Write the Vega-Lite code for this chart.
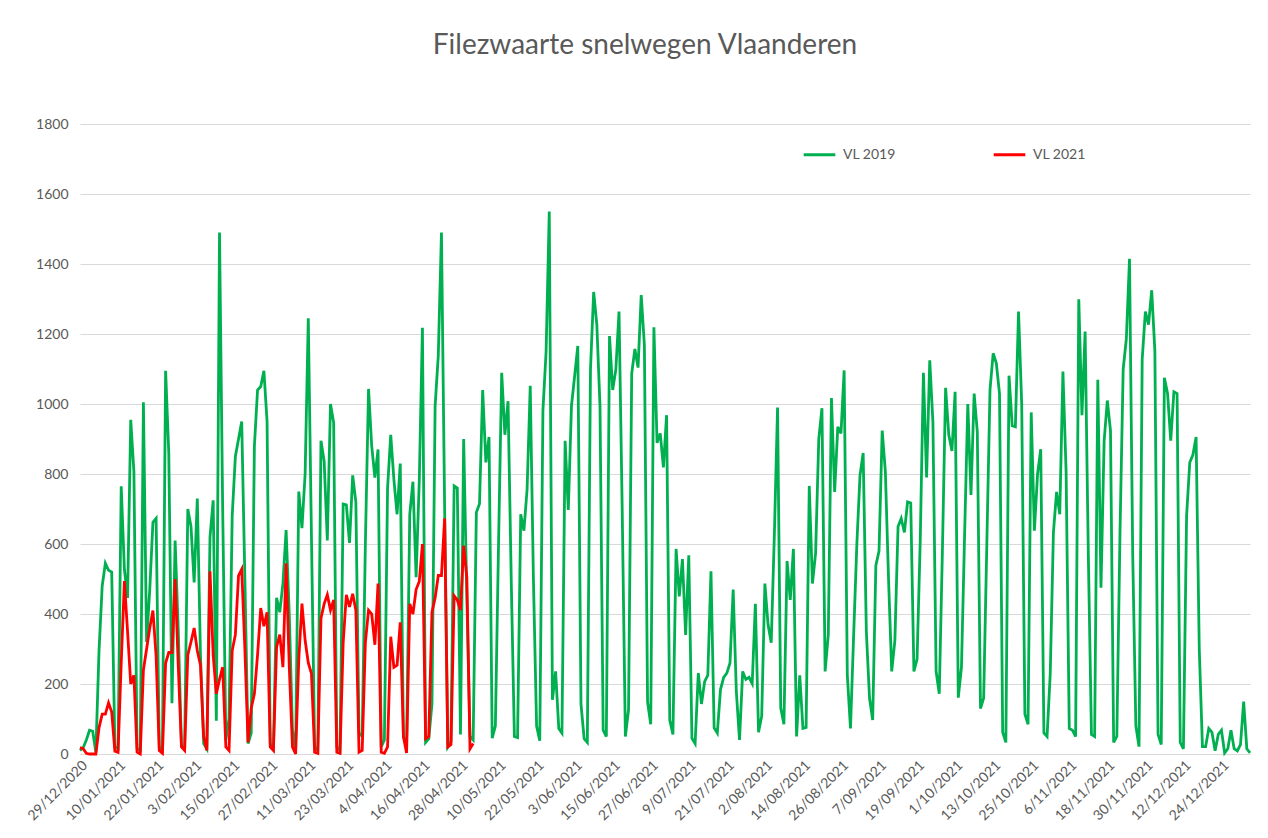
{
"$schema": "https://vega.github.io/schema/vega-lite/v6.json",
"width": 1170, "height": 630,
"autosize": "none",
"padding": {"left": 80, "top": 124, "right": 18, "bottom": 84},
"background": "white",
"title": {"text": "Filezwaarte snelwegen Vlaanderen", "fontSize": 28, "font": "Lato", "fontWeight": "normal", "color": "#595959", "offset": 57, "dx": -20},
"config": {"view": {"stroke": null}, "font": "Lato"},
"data": {"values": [
{"dag":"2020-12-29","VL 2019":10,"VL 2021":18},
{"dag":"2020-12-30","VL 2019":18,"VL 2021":15},
{"dag":"2020-12-31","VL 2019":40,"VL 2021":2},
{"dag":"2021-01-01","VL 2019":68,"VL 2021":0},
{"dag":"2021-01-02","VL 2019":65,"VL 2021":0},
{"dag":"2021-01-03","VL 2019":5,"VL 2021":0},
{"dag":"2021-01-04","VL 2019":295,"VL 2021":75},
{"dag":"2021-01-05","VL 2019":480,"VL 2021":114},
{"dag":"2021-01-06","VL 2019":545,"VL 2021":114},
{"dag":"2021-01-07","VL 2019":525,"VL 2021":146},
{"dag":"2021-01-08","VL 2019":520,"VL 2021":120},
{"dag":"2021-01-09","VL 2019":20,"VL 2021":8},
{"dag":"2021-01-10","VL 2019":15,"VL 2021":5},
{"dag":"2021-01-11","VL 2019":765,"VL 2021":260},
{"dag":"2021-01-12","VL 2019":528,"VL 2021":494},
{"dag":"2021-01-13","VL 2019":446,"VL 2021":350},
{"dag":"2021-01-14","VL 2019":955,"VL 2021":200},
{"dag":"2021-01-15","VL 2019":807,"VL 2021":225},
{"dag":"2021-01-16","VL 2019":15,"VL 2021":5},
{"dag":"2021-01-17","VL 2019":10,"VL 2021":0},
{"dag":"2021-01-18","VL 2019":1005,"VL 2021":240},
{"dag":"2021-01-19","VL 2019":320,"VL 2021":300},
{"dag":"2021-01-20","VL 2019":470,"VL 2021":360},
{"dag":"2021-01-21","VL 2019":662,"VL 2021":410},
{"dag":"2021-01-22","VL 2019":673,"VL 2021":280},
{"dag":"2021-01-23","VL 2019":20,"VL 2021":10},
{"dag":"2021-01-24","VL 2019":10,"VL 2021":2},
{"dag":"2021-01-25","VL 2019":1095,"VL 2021":260},
{"dag":"2021-01-26","VL 2019":860,"VL 2021":290},
{"dag":"2021-01-27","VL 2019":145,"VL 2021":290},
{"dag":"2021-01-28","VL 2019":610,"VL 2021":500},
{"dag":"2021-01-29","VL 2019":350,"VL 2021":250},
{"dag":"2021-01-30","VL 2019":25,"VL 2021":20},
{"dag":"2021-01-31","VL 2019":15,"VL 2021":10},
{"dag":"2021-02-01","VL 2019":700,"VL 2021":283},
{"dag":"2021-02-02","VL 2019":650,"VL 2021":320},
{"dag":"2021-02-03","VL 2019":490,"VL 2021":360},
{"dag":"2021-02-04","VL 2019":730,"VL 2021":295},
{"dag":"2021-02-05","VL 2019":280,"VL 2021":254},
{"dag":"2021-02-06","VL 2019":30,"VL 2021":50},
{"dag":"2021-02-07","VL 2019":15,"VL 2021":10},
{"dag":"2021-02-08","VL 2019":620,"VL 2021":522},
{"dag":"2021-02-09","VL 2019":725,"VL 2021":283},
{"dag":"2021-02-10","VL 2019":95,"VL 2021":172},
{"dag":"2021-02-11","VL 2019":1490,"VL 2021":213},
{"dag":"2021-02-12","VL 2019":700,"VL 2021":248},
{"dag":"2021-02-13","VL 2019":40,"VL 2021":20},
{"dag":"2021-02-14","VL 2019":100,"VL 2021":10},
{"dag":"2021-02-15","VL 2019":680,"VL 2021":295},
{"dag":"2021-02-16","VL 2019":850,"VL 2021":341},
{"dag":"2021-02-17","VL 2019":900,"VL 2021":510},
{"dag":"2021-02-18","VL 2019":950,"VL 2021":528},
{"dag":"2021-02-19","VL 2019":500,"VL 2021":300},
{"dag":"2021-02-20","VL 2019":30,"VL 2021":33},
{"dag":"2021-02-21","VL 2019":60,"VL 2021":131},
{"dag":"2021-02-22","VL 2019":880,"VL 2021":172},
{"dag":"2021-02-23","VL 2019":1040,"VL 2021":283},
{"dag":"2021-02-24","VL 2019":1050,"VL 2021":417},
{"dag":"2021-02-25","VL 2019":1095,"VL 2021":365},
{"dag":"2021-02-26","VL 2019":950,"VL 2021":405},
{"dag":"2021-02-27","VL 2019":30,"VL 2021":20},
{"dag":"2021-02-28","VL 2019":15,"VL 2021":10},
{"dag":"2021-03-01","VL 2019":446,"VL 2021":306},
{"dag":"2021-03-02","VL 2019":405,"VL 2021":341},
{"dag":"2021-03-03","VL 2019":487,"VL 2021":248},
{"dag":"2021-03-04","VL 2019":640,"VL 2021":545},
{"dag":"2021-03-05","VL 2019":400,"VL 2021":250},
{"dag":"2021-03-06","VL 2019":70,"VL 2021":20},
{"dag":"2021-03-07","VL 2019":5,"VL 2021":0},
{"dag":"2021-03-08","VL 2019":750,"VL 2021":270},
{"dag":"2021-03-09","VL 2019":645,"VL 2021":430},
{"dag":"2021-03-10","VL 2019":800,"VL 2021":325},
{"dag":"2021-03-11","VL 2019":1245,"VL 2021":260},
{"dag":"2021-03-12","VL 2019":620,"VL 2021":230},
{"dag":"2021-03-13","VL 2019":20,"VL 2021":5},
{"dag":"2021-03-14","VL 2019":10,"VL 2021":2},
{"dag":"2021-03-15","VL 2019":895,"VL 2021":388},
{"dag":"2021-03-16","VL 2019":837,"VL 2021":429},
{"dag":"2021-03-17","VL 2019":610,"VL 2021":455},
{"dag":"2021-03-18","VL 2019":1000,"VL 2021":411},
{"dag":"2021-03-19","VL 2019":947,"VL 2021":440},
{"dag":"2021-03-20","VL 2019":20,"VL 2021":5},
{"dag":"2021-03-21","VL 2019":10,"VL 2021":2},
{"dag":"2021-03-22","VL 2019":714,"VL 2021":318},
{"dag":"2021-03-23","VL 2019":712,"VL 2021":455},
{"dag":"2021-03-24","VL 2019":603,"VL 2021":420},
{"dag":"2021-03-25","VL 2019":796,"VL 2021":458},
{"dag":"2021-03-26","VL 2019":720,"VL 2021":411},
{"dag":"2021-03-27","VL 2019":60,"VL 2021":5},
{"dag":"2021-03-28","VL 2019":50,"VL 2021":10},
{"dag":"2021-03-29","VL 2019":600,"VL 2021":318},
{"dag":"2021-03-30","VL 2019":1043,"VL 2021":411},
{"dag":"2021-03-31","VL 2019":880,"VL 2021":400},
{"dag":"2021-04-01","VL 2019":790,"VL 2021":312},
{"dag":"2021-04-02","VL 2019":870,"VL 2021":487},
{"dag":"2021-04-03","VL 2019":20,"VL 2021":5},
{"dag":"2021-04-04","VL 2019":40,"VL 2021":2},
{"dag":"2021-04-05","VL 2019":760,"VL 2021":20},
{"dag":"2021-04-06","VL 2019":912,"VL 2021":335},
{"dag":"2021-04-07","VL 2019":784,"VL 2021":248},
{"dag":"2021-04-08","VL 2019":685,"VL 2021":254},
{"dag":"2021-04-09","VL 2019":830,"VL 2021":376},
{"dag":"2021-04-10","VL 2019":50,"VL 2021":50},
{"dag":"2021-04-11","VL 2019":25,"VL 2021":3},
{"dag":"2021-04-12","VL 2019":685,"VL 2021":429},
{"dag":"2021-04-13","VL 2019":778,"VL 2021":400},
{"dag":"2021-04-14","VL 2019":505,"VL 2021":470},
{"dag":"2021-04-15","VL 2019":780,"VL 2021":493},
{"dag":"2021-04-16","VL 2019":1218,"VL 2021":600},
{"dag":"2021-04-17","VL 2019":33,"VL 2021":44},
{"dag":"2021-04-18","VL 2019":44,"VL 2021":50},
{"dag":"2021-04-19","VL 2019":143,"VL 2021":405},
{"dag":"2021-04-20","VL 2019":994,"VL 2021":446},
{"dag":"2021-04-21","VL 2019":1139,"VL 2021":510},
{"dag":"2021-04-22","VL 2019":1490,"VL 2021":510},
{"dag":"2021-04-23","VL 2019":700,"VL 2021":673},
{"dag":"2021-04-24","VL 2019":20,"VL 2021":20},
{"dag":"2021-04-25","VL 2019":35,"VL 2021":27},
{"dag":"2021-04-26","VL 2019":766,"VL 2021":452},
{"dag":"2021-04-27","VL 2019":760,"VL 2021":440},
{"dag":"2021-04-28","VL 2019":56,"VL 2021":411},
{"dag":"2021-04-29","VL 2019":900,"VL 2021":595},
{"dag":"2021-04-30","VL 2019":450,"VL 2021":505},
{"dag":"2021-05-01","VL 2019":50,"VL 2021":15},
{"dag":"2021-05-02","VL 2019":40,"VL 2021":30},
{"dag":"2021-05-03","VL 2019":690},
{"dag":"2021-05-04","VL 2019":715},
{"dag":"2021-05-05","VL 2019":1040},
{"dag":"2021-05-06","VL 2019":833},
{"dag":"2021-05-07","VL 2019":906},
{"dag":"2021-05-08","VL 2019":45},
{"dag":"2021-05-09","VL 2019":80},
{"dag":"2021-05-10","VL 2019":600},
{"dag":"2021-05-11","VL 2019":1089},
{"dag":"2021-05-12","VL 2019":912},
{"dag":"2021-05-13","VL 2019":1008},
{"dag":"2021-05-14","VL 2019":500},
{"dag":"2021-05-15","VL 2019":50},
{"dag":"2021-05-16","VL 2019":47},
{"dag":"2021-05-17","VL 2019":685},
{"dag":"2021-05-18","VL 2019":638},
{"dag":"2021-05-19","VL 2019":755},
{"dag":"2021-05-20","VL 2019":1052},
{"dag":"2021-05-21","VL 2019":500},
{"dag":"2021-05-22","VL 2019":80},
{"dag":"2021-05-23","VL 2019":38},
{"dag":"2021-05-24","VL 2019":982},
{"dag":"2021-05-25","VL 2019":1150},
{"dag":"2021-05-26","VL 2019":1550},
{"dag":"2021-05-27","VL 2019":155},
{"dag":"2021-05-28","VL 2019":236},
{"dag":"2021-05-29","VL 2019":73},
{"dag":"2021-05-30","VL 2019":60},
{"dag":"2021-05-31","VL 2019":895},
{"dag":"2021-06-01","VL 2019":697},
{"dag":"2021-06-02","VL 2019":994},
{"dag":"2021-06-03","VL 2019":1080},
{"dag":"2021-06-04","VL 2019":1166},
{"dag":"2021-06-05","VL 2019":143},
{"dag":"2021-06-06","VL 2019":44},
{"dag":"2021-06-07","VL 2019":33},
{"dag":"2021-06-08","VL 2019":1100},
{"dag":"2021-06-09","VL 2019":1320},
{"dag":"2021-06-10","VL 2019":1227},
{"dag":"2021-06-11","VL 2019":994},
{"dag":"2021-06-12","VL 2019":68},
{"dag":"2021-06-13","VL 2019":50},
{"dag":"2021-06-14","VL 2019":1194},
{"dag":"2021-06-15","VL 2019":1040},
{"dag":"2021-06-16","VL 2019":1099},
{"dag":"2021-06-17","VL 2019":1264},
{"dag":"2021-06-18","VL 2019":700},
{"dag":"2021-06-19","VL 2019":50},
{"dag":"2021-06-20","VL 2019":126},
{"dag":"2021-06-21","VL 2019":1087},
{"dag":"2021-06-22","VL 2019":1157},
{"dag":"2021-06-23","VL 2019":1104},
{"dag":"2021-06-24","VL 2019":1311},
{"dag":"2021-06-25","VL 2019":1168},
{"dag":"2021-06-26","VL 2019":149},
{"dag":"2021-06-27","VL 2019":85},
{"dag":"2021-06-28","VL 2019":1219},
{"dag":"2021-06-29","VL 2019":889},
{"dag":"2021-06-30","VL 2019":916},
{"dag":"2021-07-01","VL 2019":819},
{"dag":"2021-07-02","VL 2019":968},
{"dag":"2021-07-03","VL 2019":97},
{"dag":"2021-07-04","VL 2019":56},
{"dag":"2021-07-05","VL 2019":586},
{"dag":"2021-07-06","VL 2019":450},
{"dag":"2021-07-07","VL 2019":557},
{"dag":"2021-07-08","VL 2019":340},
{"dag":"2021-07-09","VL 2019":568},
{"dag":"2021-07-10","VL 2019":45},
{"dag":"2021-07-11","VL 2019":30},
{"dag":"2021-07-12","VL 2019":231},
{"dag":"2021-07-13","VL 2019":143},
{"dag":"2021-07-14","VL 2019":207},
{"dag":"2021-07-15","VL 2019":225},
{"dag":"2021-07-16","VL 2019":522},
{"dag":"2021-07-17","VL 2019":75},
{"dag":"2021-07-18","VL 2019":60},
{"dag":"2021-07-19","VL 2019":184},
{"dag":"2021-07-20","VL 2019":219},
{"dag":"2021-07-21","VL 2019":231},
{"dag":"2021-07-22","VL 2019":260},
{"dag":"2021-07-23","VL 2019":470},
{"dag":"2021-07-24","VL 2019":178},
{"dag":"2021-07-25","VL 2019":40},
{"dag":"2021-07-26","VL 2019":236},
{"dag":"2021-07-27","VL 2019":213},
{"dag":"2021-07-28","VL 2019":219},
{"dag":"2021-07-29","VL 2019":201},
{"dag":"2021-07-30","VL 2019":429},
{"dag":"2021-07-31","VL 2019":62},
{"dag":"2021-08-01","VL 2019":108},
{"dag":"2021-08-02","VL 2019":487},
{"dag":"2021-08-03","VL 2019":370},
{"dag":"2021-08-04","VL 2019":318},
{"dag":"2021-08-05","VL 2019":630},
{"dag":"2021-08-06","VL 2019":990},
{"dag":"2021-08-07","VL 2019":132},
{"dag":"2021-08-08","VL 2019":85},
{"dag":"2021-08-09","VL 2019":551},
{"dag":"2021-08-10","VL 2019":440},
{"dag":"2021-08-11","VL 2019":586},
{"dag":"2021-08-12","VL 2019":50},
{"dag":"2021-08-13","VL 2019":225},
{"dag":"2021-08-14","VL 2019":73},
{"dag":"2021-08-15","VL 2019":76},
{"dag":"2021-08-16","VL 2019":766},
{"dag":"2021-08-17","VL 2019":487},
{"dag":"2021-08-18","VL 2019":574},
{"dag":"2021-08-19","VL 2019":900},
{"dag":"2021-08-20","VL 2019":988},
{"dag":"2021-08-21","VL 2019":236},
{"dag":"2021-08-22","VL 2019":341},
{"dag":"2021-08-23","VL 2019":1017},
{"dag":"2021-08-24","VL 2019":749},
{"dag":"2021-08-25","VL 2019":935},
{"dag":"2021-08-26","VL 2019":916},
{"dag":"2021-08-27","VL 2019":1096},
{"dag":"2021-08-28","VL 2019":225},
{"dag":"2021-08-29","VL 2019":73},
{"dag":"2021-08-30","VL 2019":341},
{"dag":"2021-08-31","VL 2019":598},
{"dag":"2021-09-01","VL 2019":796},
{"dag":"2021-09-02","VL 2019":860},
{"dag":"2021-09-03","VL 2019":350},
{"dag":"2021-09-04","VL 2019":160},
{"dag":"2021-09-05","VL 2019":97},
{"dag":"2021-09-06","VL 2019":539},
{"dag":"2021-09-07","VL 2019":580},
{"dag":"2021-09-08","VL 2019":924},
{"dag":"2021-09-09","VL 2019":807},
{"dag":"2021-09-10","VL 2019":500},
{"dag":"2021-09-11","VL 2019":236},
{"dag":"2021-09-12","VL 2019":324},
{"dag":"2021-09-13","VL 2019":650},
{"dag":"2021-09-14","VL 2019":673},
{"dag":"2021-09-15","VL 2019":633},
{"dag":"2021-09-16","VL 2019":720},
{"dag":"2021-09-17","VL 2019":717},
{"dag":"2021-09-18","VL 2019":236},
{"dag":"2021-09-19","VL 2019":271},
{"dag":"2021-09-20","VL 2019":609},
{"dag":"2021-09-21","VL 2019":1089},
{"dag":"2021-09-22","VL 2019":790},
{"dag":"2021-09-23","VL 2019":1125},
{"dag":"2021-09-24","VL 2019":947},
{"dag":"2021-09-25","VL 2019":236},
{"dag":"2021-09-26","VL 2019":172},
{"dag":"2021-09-27","VL 2019":586},
{"dag":"2021-09-28","VL 2019":1046},
{"dag":"2021-09-29","VL 2019":912},
{"dag":"2021-09-30","VL 2019":866},
{"dag":"2021-10-01","VL 2019":1035},
{"dag":"2021-10-02","VL 2019":161},
{"dag":"2021-10-03","VL 2019":248},
{"dag":"2021-10-04","VL 2019":630},
{"dag":"2021-10-05","VL 2019":1000},
{"dag":"2021-10-06","VL 2019":740},
{"dag":"2021-10-07","VL 2019":1030},
{"dag":"2021-10-08","VL 2019":920},
{"dag":"2021-10-09","VL 2019":130},
{"dag":"2021-10-10","VL 2019":160},
{"dag":"2021-10-11","VL 2019":600},
{"dag":"2021-10-12","VL 2019":1040},
{"dag":"2021-10-13","VL 2019":1145},
{"dag":"2021-10-14","VL 2019":1116},
{"dag":"2021-10-15","VL 2019":1029},
{"dag":"2021-10-16","VL 2019":62},
{"dag":"2021-10-17","VL 2019":33},
{"dag":"2021-10-18","VL 2019":1081},
{"dag":"2021-10-19","VL 2019":938},
{"dag":"2021-10-20","VL 2019":935},
{"dag":"2021-10-21","VL 2019":1264},
{"dag":"2021-10-22","VL 2019":1000},
{"dag":"2021-10-23","VL 2019":114},
{"dag":"2021-10-24","VL 2019":85},
{"dag":"2021-10-25","VL 2019":976},
{"dag":"2021-10-26","VL 2019":638},
{"dag":"2021-10-27","VL 2019":800},
{"dag":"2021-10-28","VL 2019":871},
{"dag":"2021-10-29","VL 2019":60},
{"dag":"2021-10-30","VL 2019":50},
{"dag":"2021-10-31","VL 2019":230},
{"dag":"2021-11-01","VL 2019":633},
{"dag":"2021-11-02","VL 2019":749},
{"dag":"2021-11-03","VL 2019":685},
{"dag":"2021-11-04","VL 2019":1093},
{"dag":"2021-11-05","VL 2019":807},
{"dag":"2021-11-06","VL 2019":73},
{"dag":"2021-11-07","VL 2019":68},
{"dag":"2021-11-08","VL 2019":50},
{"dag":"2021-11-09","VL 2019":1299},
{"dag":"2021-11-10","VL 2019":968},
{"dag":"2021-11-11","VL 2019":1207},
{"dag":"2021-11-12","VL 2019":575},
{"dag":"2021-11-13","VL 2019":56},
{"dag":"2021-11-14","VL 2019":50},
{"dag":"2021-11-15","VL 2019":1069},
{"dag":"2021-11-16","VL 2019":475},
{"dag":"2021-11-17","VL 2019":895},
{"dag":"2021-11-18","VL 2019":1010},
{"dag":"2021-11-19","VL 2019":924},
{"dag":"2021-11-20","VL 2019":33},
{"dag":"2021-11-21","VL 2019":50},
{"dag":"2021-11-22","VL 2019":633},
{"dag":"2021-11-23","VL 2019":1099},
{"dag":"2021-11-24","VL 2019":1186},
{"dag":"2021-11-25","VL 2019":1415},
{"dag":"2021-11-26","VL 2019":575},
{"dag":"2021-11-27","VL 2019":80},
{"dag":"2021-11-28","VL 2019":21},
{"dag":"2021-11-29","VL 2019":1128},
{"dag":"2021-11-30","VL 2019":1264},
{"dag":"2021-12-01","VL 2019":1227},
{"dag":"2021-12-02","VL 2019":1325},
{"dag":"2021-12-03","VL 2019":1151},
{"dag":"2021-12-04","VL 2019":56},
{"dag":"2021-12-05","VL 2019":27},
{"dag":"2021-12-06","VL 2019":1075},
{"dag":"2021-12-07","VL 2019":1030},
{"dag":"2021-12-08","VL 2019":895},
{"dag":"2021-12-09","VL 2019":1035},
{"dag":"2021-12-10","VL 2019":1030},
{"dag":"2021-12-11","VL 2019":33},
{"dag":"2021-12-12","VL 2019":15},
{"dag":"2021-12-13","VL 2019":680},
{"dag":"2021-12-14","VL 2019":833},
{"dag":"2021-12-15","VL 2019":855},
{"dag":"2021-12-16","VL 2019":906},
{"dag":"2021-12-17","VL 2019":300},
{"dag":"2021-12-18","VL 2019":21},
{"dag":"2021-12-19","VL 2019":21},
{"dag":"2021-12-20","VL 2019":73},
{"dag":"2021-12-21","VL 2019":62},
{"dag":"2021-12-22","VL 2019":9},
{"dag":"2021-12-23","VL 2019":56},
{"dag":"2021-12-24","VL 2019":68},
{"dag":"2021-12-25","VL 2019":3},
{"dag":"2021-12-26","VL 2019":15},
{"dag":"2021-12-27","VL 2019":68},
{"dag":"2021-12-28","VL 2019":15},
{"dag":"2021-12-29","VL 2019":9},
{"dag":"2021-12-30","VL 2019":27},
{"dag":"2021-12-31","VL 2019":150},
{"dag":"2022-01-01","VL 2019":15},
{"dag":"2022-01-02","VL 2019":3}
]},
"transform": [{"fold": ["VL 2019", "VL 2021"], "as": ["reeks", "waarde"]}],
"mark": {"type": "line", "strokeWidth": 2.8, "interpolate": "linear"},
"encoding": {
  "x": {"field": "dag", "type": "temporal",
    "scale": {"type": "utc", "domain": [{"year": 2020, "month": 12, "date": 29, "utc": true}, {"year": 2022, "month": 1, "date": 2, "utc": true}]},
    "axis": {"title": null, "format": "%-d/%m/%Y", "labelAngle": -45, "labelFontSize": 14, "labelColor": "#595959", "labelOverlap": false, "labelBound": false, "labelFlush": false, "ticks": false, "grid": false, "domainColor": "#d9d9d9", "labelPadding": 4,
      "values": [
        {"year": 2020, "month": 12, "date": 29, "utc": true},
        {"year": 2021, "month": 1, "date": 10, "utc": true},
        {"year": 2021, "month": 1, "date": 22, "utc": true},
        {"year": 2021, "month": 2, "date": 3, "utc": true},
        {"year": 2021, "month": 2, "date": 15, "utc": true},
        {"year": 2021, "month": 2, "date": 27, "utc": true},
        {"year": 2021, "month": 3, "date": 11, "utc": true},
        {"year": 2021, "month": 3, "date": 23, "utc": true},
        {"year": 2021, "month": 4, "date": 4, "utc": true},
        {"year": 2021, "month": 4, "date": 16, "utc": true},
        {"year": 2021, "month": 4, "date": 28, "utc": true},
        {"year": 2021, "month": 5, "date": 10, "utc": true},
        {"year": 2021, "month": 5, "date": 22, "utc": true},
        {"year": 2021, "month": 6, "date": 3, "utc": true},
        {"year": 2021, "month": 6, "date": 15, "utc": true},
        {"year": 2021, "month": 6, "date": 27, "utc": true},
        {"year": 2021, "month": 7, "date": 9, "utc": true},
        {"year": 2021, "month": 7, "date": 21, "utc": true},
        {"year": 2021, "month": 8, "date": 2, "utc": true},
        {"year": 2021, "month": 8, "date": 14, "utc": true},
        {"year": 2021, "month": 8, "date": 26, "utc": true},
        {"year": 2021, "month": 9, "date": 7, "utc": true},
        {"year": 2021, "month": 9, "date": 19, "utc": true},
        {"year": 2021, "month": 10, "date": 1, "utc": true},
        {"year": 2021, "month": 10, "date": 13, "utc": true},
        {"year": 2021, "month": 10, "date": 25, "utc": true},
        {"year": 2021, "month": 11, "date": 6, "utc": true},
        {"year": 2021, "month": 11, "date": 18, "utc": true},
        {"year": 2021, "month": 11, "date": 30, "utc": true},
        {"year": 2021, "month": 12, "date": 12, "utc": true},
        {"year": 2021, "month": 12, "date": 24, "utc": true}
      ]}},
  "y": {"field": "waarde", "type": "quantitative",
    "scale": {"domain": [0, 1800], "nice": false},
    "axis": {"title": null, "format": "d", "values": [0, 200, 400, 600, 800, 1000, 1200, 1400, 1600, 1800], "grid": true, "gridColor": "#d9d9d9", "domain": false, "ticks": false, "labelFontSize": 14, "labelColor": "#595959", "labelPadding": 12}},
  "color": {"field": "reeks", "type": "nominal",
    "scale": {"domain": ["VL 2019", "VL 2021"], "range": ["#00B050", "#FF0000"]},
    "legend": {"title": null, "orient": "none", "legendX": 722, "legendY": 13, "direction": "horizontal", "symbolType": "stroke", "symbolSize": 1000, "symbolStrokeWidth": 2.8, "labelFontSize": 14, "labelColor": "#595959", "labelOffset": 6, "columnPadding": 92}}
}
}
